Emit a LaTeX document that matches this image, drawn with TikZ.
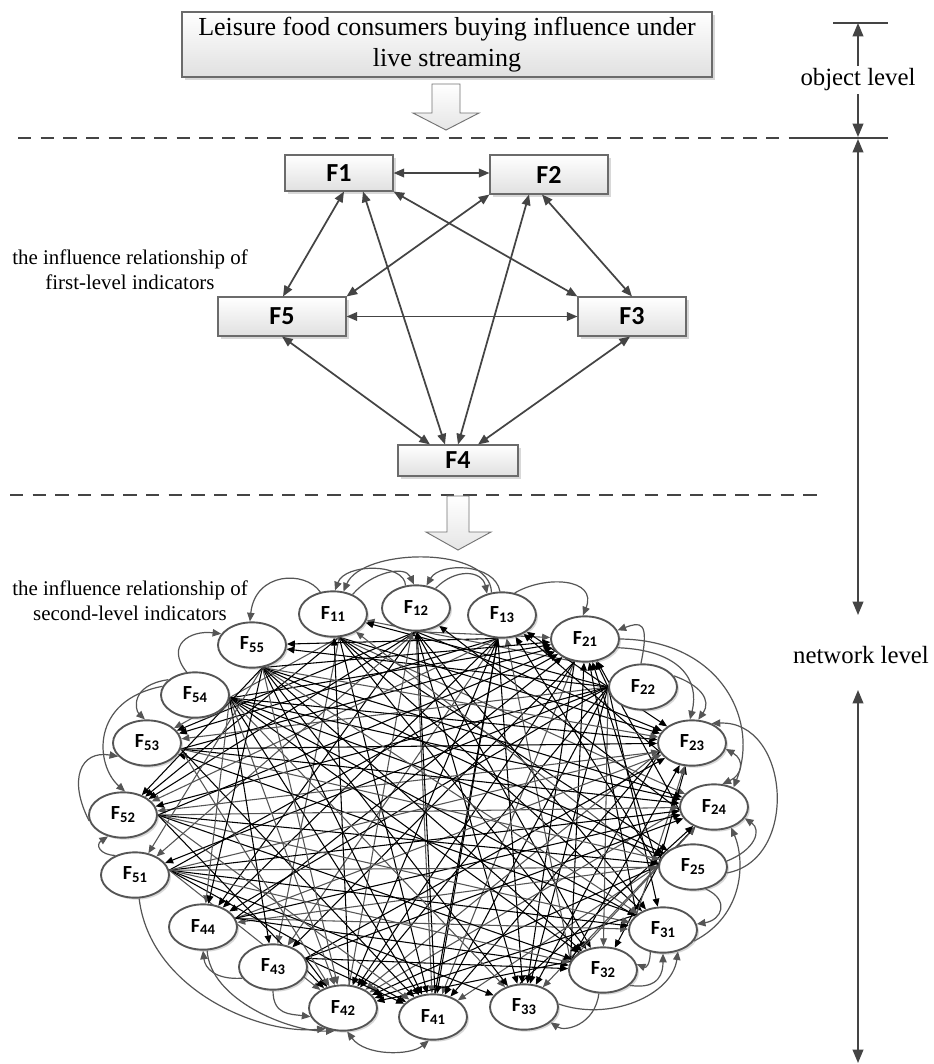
\documentclass[tikz,border=0pt]{standalone}
\usepackage{fontspec}
\setmainfont{Liberation Serif}
\newfontfamily\calibrifont{Carlito}
\usetikzlibrary{shapes.geometric,arrows.meta,shadows,calc}
\pgfdeclarelayer{back}
\pgfdeclarelayer{edges}
\pgfsetlayers{back,edges,main}
\definecolor{linegray}{HTML}{444444}
\definecolor{edgegray}{HTML}{555555}
\definecolor{boxline}{HTML}{6B6B6B}
\definecolor{ellline}{HTML}{555555}
\newcommand{\FL}[1]{{\calibrifont\bfseries\fontsize{15}{15}\selectfont F\raisebox{-2.2pt}{\fontsize{11}{11}\selectfont #1}}}
% fan-out anchor (angle on the border) of every source node
\expandafter\def\csname fan11\endcsname{-75}
\expandafter\def\csname fan12\endcsname{-90}
\expandafter\def\csname fan13\endcsname{-100}
\expandafter\def\csname fan21\endcsname{-115}
\expandafter\def\csname fan22\endcsname{180}
\expandafter\def\csname fan23\endcsname{195}
\expandafter\def\csname fan24\endcsname{185}
\expandafter\def\csname fan25\endcsname{178}
\expandafter\def\csname fan31\endcsname{150}
\expandafter\def\csname fan32\endcsname{165}
\expandafter\def\csname fan33\endcsname{100}
\expandafter\def\csname fan41\endcsname{85}
\expandafter\def\csname fan42\endcsname{75}
\expandafter\def\csname fan43\endcsname{15}
\expandafter\def\csname fan44\endcsname{15}
\expandafter\def\csname fan51\endcsname{8}
\expandafter\def\csname fan52\endcsname{0}
\expandafter\def\csname fan53\endcsname{-10}
\expandafter\def\csname fan54\endcsname{-5}
\expandafter\def\csname fan55\endcsname{-65}
\begin{document}
\begin{tikzpicture}[x=0.75pt,y=-0.75pt,
  fbox/.style={draw=boxline,line width=0.8pt,top color=white,bottom color=black!12,
     drop shadow={shadow xshift=2pt,shadow yshift=-2pt,opacity=0.25,fill=black!60},
     inner sep=0pt,font=\calibrifont\bfseries\fontsize{19.5}{19.5}\selectfont},
  lvl/.style={draw=linegray,line width=1.3pt,{Triangle[length=8pt,width=6.5pt]}-{Triangle[length=8pt,width=6.5pt]}},
  sidetext/.style={align=center,font=\fontsize{15.7}{18.75}\selectfont,inner sep=0pt},
  rlabel/.style={font=\fontsize{18.6}{20}\selectfont,inner sep=0pt},
  rule/.style={draw=linegray,line width=1.2pt},
  endtip/.style={-{Triangle[length=10pt,width=8pt]}},
  ell/.style={ellipse,draw=ellline,line width=1.4pt,fill=white,minimum width=51pt,minimum height=34pt,inner sep=0pt,
     drop shadow={shadow xshift=1.5pt,shadow yshift=-1.5pt,opacity=0.3,fill=black!50}},
  net/.style={line width=0.8pt,-{Triangle[length=6pt,width=5pt]}},
  loopedge/.style={draw=edgegray,line width=0.9pt,-{Triangle[length=6.5pt,width=5.5pt]}},
  dline/.style={draw=linegray,line width=1.2pt,dash pattern=on 10pt off 7pt},
  hollow/.style={draw=black!55,line width=0.7pt,top color=white,bottom color=black!10}
]
\begin{pgfonlayer}{back}
\fill[white] (0,0) rectangle (933,1064);
\end{pgfonlayer}
\useasboundingbox (0,0) rectangle (933,1064);

% ---------- object level ----------
\node[fbox,minimum width=397.5pt,minimum height=48.75pt,align=center,
      font=\fontsize{19.5}{23.25}\selectfont] (title) at (447,44.5)
  {Leisure food consumers buying influence under\\live streaming};
\shade[hollow] (432,84) -- (460,84) -- (460,113) -- (479,113) -- (446,130) -- (413,113) -- (432,113) -- cycle;
\draw[dline] (18,138) -- (802,138);

% ---------- first level ----------
\node[fbox,minimum width=81pt,minimum height=27pt] (b1) at (339,173) {F1};
\node[fbox,minimum width=88.5pt,minimum height=29.25pt] (b2) at (549,174.5) {F2};
\node[fbox,minimum width=96pt,minimum height=29.25pt] (b5) at (282,316.5) {F5};
\node[fbox,minimum width=81pt,minimum height=29.25pt] (b3) at (632,316.5) {F3};
\node[fbox,minimum width=90pt,minimum height=23.25pt] (b4) at (458,460.5) {F4};

\draw[lvl] (b1.east) -- (b1.east -| b2.west);
\draw[lvl] ($(b1.south)+(5,0)$) -- ($(b5.north)+(1,0)$);
\draw[lvl] ($(b1.south)+(24,0)$) -- ($(b4.north)+(-13,0)$);
\draw[lvl] (b1.south east) -- (b3.north west);
\draw[lvl] (b2.south west) -- (b5.north east);
\draw[lvl] ($(b2.south)+(-20,0)$) -- (b4.north);
\draw[lvl] ($(b2.south)+(-7,0)$) -- (b3.north);
\draw[lvl] (b5.east) -- (b3.west);
\draw[lvl] (b5.south) -- ($(b4.north)+(-28,0)$);
\draw[lvl] ($(b3.south)+(-2,0)$) -- ($(b4.north)+(20,0)$);

\node[sidetext] (lab1) at (130,270) {the influence relationship of\\first-level indicators};

\draw[dline] (10,495) -- (825,495);
\shade[hollow] (447,496) -- (469,496) -- (469,532) -- (491,532) -- (458,550) -- (426,532) -- (447,532) -- cycle;

% ---------- right-hand level markers ----------
\coordinate (t1a) at (833,23); \coordinate (t1b) at (888,23);
\coordinate (t2a) at (802,138); \coordinate (t2b) at (888,138);
\draw[rule] (t1a) -- (t1b);
\draw[rule] (t2a) -- (t2b);
\node[rlabel] (objlbl) at (858,80) {object level};
\node[rlabel] (netlbl) at (861,655) {network level};
\coordinate (oa) at (858,66); \coordinate (ob) at (858,94);
\draw[rule,endtip] (oa) -- (858,23);
\draw[rule,endtip] (ob) -- (858,137);
\coordinate (na) at (858,139); \coordinate (nb) at (858,615);
\draw[rule,{Triangle[length=10pt,width=8pt]}-{Triangle[length=10pt,width=8pt]}] (na) -- (nb);
\coordinate (nc) at (858,690); \coordinate (nd) at (858,1063);
\draw[rule,{Triangle[length=10pt,width=8pt]}-{Triangle[length=10pt,width=8pt]}] (nc) -- (nd);

% ---------- second level ----------
\node[sidetext] (lab2) at (130,601) {the influence relationship of\\second-level indicators};

\node[ell] (f11) at (333,614) {\FL{11}};
\node[ell] (f12) at (416,608) {\FL{12}};
\node[ell] (f13) at (502,615) {\FL{13}};
\node[ell] (f21) at (585,639) {\FL{21}};
\node[ell] (f22) at (643,687) {\FL{22}};
\node[ell] (f23) at (692,743) {\FL{23}};
\node[ell] (f24) at (714,807) {\FL{24}};
\node[ell] (f25) at (693,867) {\FL{25}};
\node[ell] (f31) at (663,930) {\FL{31}};
\node[ell] (f32) at (603,970) {\FL{32}};
\node[ell] (f33) at (524,1007) {\FL{33}};
\node[ell] (f41) at (433,1017) {\FL{41}};
\node[ell] (f42) at (343,1008) {\FL{42}};
\node[ell] (f43) at (273,967) {\FL{43}};
\node[ell] (f44) at (203,927) {\FL{44}};
\node[ell] (f51) at (135,875) {\FL{51}};
\node[ell] (f52) at (123,815) {\FL{52}};
\node[ell] (f53) at (147,743) {\FL{53}};
\node[ell] (f54) at (195,695) {\FL{54}};
\node[ell] (f55) at (252,645) {\FL{55}};

\begin{pgfonlayer}{edges}
\foreach \s/\t/\c in {
 11/23/black,11/24/edgegray,11/31/black,11/32/black,11/41/black,11/52/black,11/25/black,11/43/edgegray,11/53/edgegray,
 12/21/edgegray,12/23/black,12/31/black,12/32/black,12/33/black,12/41/edgegray,12/44/black,12/51/edgegray,12/52/black,12/53/black,
 13/33/black,13/41/black,13/42/black,13/43/edgegray,13/44/black,13/52/edgegray,13/53/black,13/55/black,
 21/33/black,21/41/edgegray,21/42/black,21/43/black,21/11/edgegray,
 22/21/black,22/13/black,22/11/black,22/55/black,22/53/edgegray,22/52/black,22/51/black,22/44/black,22/42/black,22/41/black,22/33/black,22/32/edgegray,22/31/black,22/23/black,
 23/52/edgegray,23/42/edgegray,23/41/black,23/33/black,23/13/black,
 24/42/edgegray,24/21/black,24/12/black,
 25/21/black,25/23/black,25/24/black,25/13/black,25/11/edgegray,25/44/edgegray,25/42/black,25/41/edgegray,25/32/black,25/33/edgegray,
 31/21/black,31/23/edgegray,31/53/black,31/42/black,
 32/21/black,32/23/black,32/24/edgegray,32/13/edgegray,32/42/black,
 33/24/black,
 41/13/black,41/12/black,
 42/11/black,42/12/edgegray,
 43/23/black,43/24/black,43/41/black,43/42/black,43/32/black,
 44/23/edgegray,44/24/black,44/21/black,44/31/edgegray,44/32/black,
 51/24/black,51/31/black,51/32/edgegray,51/33/black,51/41/black,51/42/edgegray,51/21/black,51/23/edgegray,51/25/edgegray,
 52/21/black,52/24/edgegray,52/25/black,52/31/edgegray,52/32/black,52/41/edgegray,52/42/black,
 53/21/black,53/23/black,53/24/black,53/42/edgegray,53/41/black,53/25/edgegray,
 54/21/black,54/23/black,54/24/black,54/25/black,54/31/black,54/32/black,54/33/edgegray,54/41/black,54/42/edgegray,54/44/edgegray,54/43/black,
 55/21/black,55/23/edgegray,55/24/black,55/25/black,55/31/edgegray,55/32/black,55/33/black,55/41/black,55/42/edgegray,55/44/black,55/51/edgegray,55/52/black}
 {\edef\fa{\csname fan\s\endcsname}\draw[net,draw=\c] (f\s.\fa) -- (f\t);}

% outer curved connectors
\draw[loopedge] (f11.120) .. controls (305,570) and (255,572) .. (f55.95);
\draw[loopedge] (f54.110) .. controls (165,645) and (190,630) .. (f55.160);
\draw[loopedge] (f12.115) .. controls (405,563) and (345,563) .. (f11.85);
\draw[loopedge] (f13.115) .. controls (490,545) and (362,548) .. (f11.65);
\draw[loopedge] (f11.45) .. controls (372,572) and (405,565) .. (f12.95);
\draw[loopedge] (f13.95) .. controls (495,563) and (440,562) .. (f12.65);
\draw[loopedge] (f12.45) .. controls (455,568) and (482,570) .. (f13.125);
\draw[loopedge] (f13.60) .. controls (545,575) and (598,578) .. (f21.95);
\draw[loopedge] (f22.95) .. controls (650,620) and (640,622) .. (f21.15);
\draw[loopedge] (f21.0) .. controls (720,640) and (760,720) .. (f24.45);
\draw[loopedge] (f21.-15) .. controls (680,650) and (700,680) .. (f23.95);
\draw[loopedge] (f22.20) .. controls (700,685) and (712,700) .. (f23.75);
\draw[loopedge] (f25.-10) .. controls (800,860) and (790,720) .. (f23.45);
\draw[loopedge,{Triangle[length=6.5pt,width=5.5pt]}-{Triangle[length=6.5pt,width=5.5pt]}] (f23.-10) .. controls (745,760) and (742,775) .. (f24.70);
\draw[loopedge] (f31.-20) .. controls (745,915) and (745,860) .. (f24.-50);
\draw[loopedge] (f25.10) .. controls (755,850) and (762,830) .. (f24.-20);
\draw[loopedge] (f25.-60) .. controls (730,900) and (722,920) .. (f31.10);
\draw[loopedge] (f32.-30) .. controls (660,990) and (663,972) .. (f31.-90);
\draw[loopedge] (f31.-120) .. controls (650,965) and (646,968) .. (f32.10);
\draw[loopedge] (f32.-100) .. controls (595,1025) and (565,1032) .. (f33.-30);
\draw[loopedge] (f33.5) .. controls (610,1022) and (672,995) .. (f31.-55);
\draw[loopedge] (f54.150) .. controls (130,685) and (135,710) .. (f53.95);
\draw[loopedge] (f54.165) .. controls (90,700) and (95,765) .. (f52.85);
\draw[loopedge] (f52.190) .. controls (68,780) and (80,750) .. (f53.205);
\draw[loopedge] (f51.135) .. controls (100,855) and (95,845) .. (f52.-125);
\draw[loopedge] (f51.-80) .. controls (150,990) and (260,1035) .. (f42.-130);
\draw[loopedge] (f44.-80) .. controls (210,1000) and (290,1032) .. (f42.-110);
\draw[loopedge] (f43.-90) .. controls (273,1015) and (290,1014) .. (f42.195);
\draw[loopedge] (f43.200) .. controls (215,980) and (205,968) .. (f44.-90);
\draw[loopedge,{Triangle[length=6.5pt,width=5.5pt]}-{Triangle[length=6.5pt,width=5.5pt]}] (f42.-80) .. controls (365,1056) and (410,1056) .. (f41.-100);
\end{pgfonlayer}
\end{tikzpicture}
\end{document}
